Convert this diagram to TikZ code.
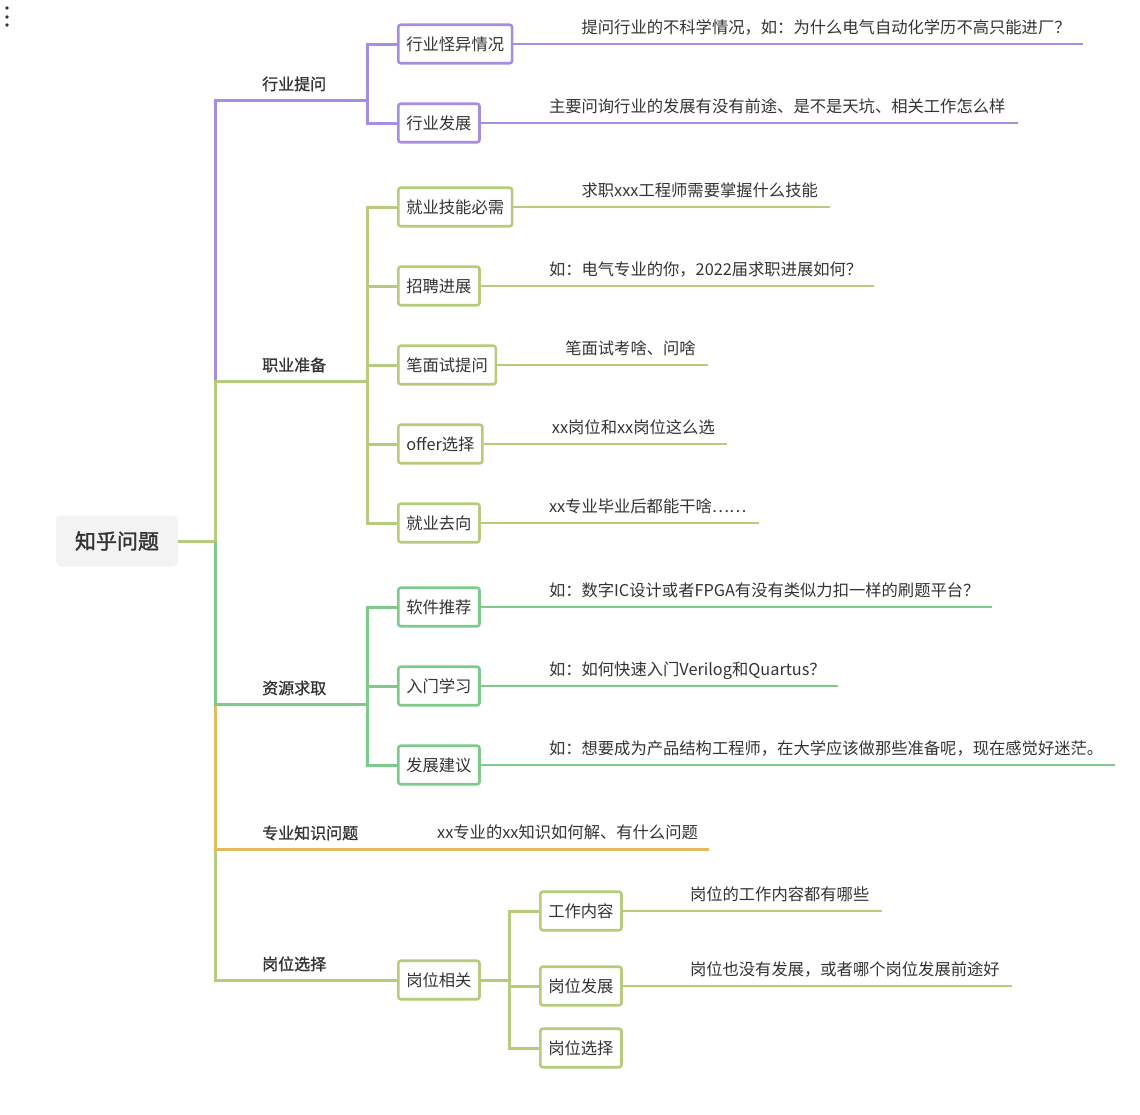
\documentclass[tikz,border=0pt]{standalone}
\usepackage{fontspec}
\setmainfont{Noto Sans CJK SC}
\newfontfamily\medfont{Noto Sans CJK SC}[FakeBold=1.1]
\newfontfamily\rootfont{Noto Sans CJK SC}[FakeBold=1.6]
\usepackage{xcolor}
\definecolor{ink}{HTML}{333333}
\definecolor{rootgray}{HTML}{F3F3F3}
\definecolor{lilac}{HTML}{A68CE2}
\definecolor{olive}{HTML}{B6CB7C}
\definecolor{leafgreen}{HTML}{7EC98C}
\definecolor{amber}{HTML}{E4BA5E}
\usetikzlibrary{calc, positioning}

\begin{document}
\begin{tikzpicture}[
    x=1pt, y=-1pt,
    root/.style={fill=rootgray, rounded corners=5pt, minimum width=122pt, minimum height=51pt, font=\fontsize{21}{25}\rootfont, text=ink},
    topic/.style={anchor=base west, inner sep=0pt, font=\fontsize{16}{19}\medfont, text=ink},
    sub/.style={draw=#1, fill=white, line width=2.6pt, rounded corners=2.5pt, anchor=west, minimum height=38.5pt, inner xsep=8pt, font=\fontsize{16.3}{19}\selectfont, text=ink},
    leaf/.style={anchor=base west, inner sep=0pt, font=\fontsize{16.3}{19}\selectfont, text=ink},
    limb/.style={draw=#1, line width=3pt},
    twig/.style={draw=#1, line width=2.4pt}
]
\useasboundingbox (0,0) rectangle (1140,1114);

% menu dots
\fill[ink] (7,8) circle (1.8) (7,17) circle (1.8) (7,25) circle (1.8);

% root
\node[root] (root) at (117,541) {知乎问题};
\coordinate (hub) at (215,541);

% level one labels
\node[topic] (t1) at (262,90) {行业提问};
\node[topic] (t2) at (262,371) {职业准备};
\node[topic] (t3) at (262,694) {资源求取};
\node[topic] (t4) at (262,839) {专业知识问题};
\node[topic] (t5) at (262,970) {岗位选择};

% 行业提问
\coordinate (pj) at (367,100);
\node[sub=lilac] (p1) at (397,44) {行业怪异情况};
\node[sub=lilac] (p2) at (397,123) {行业发展};
\node[leaf] (p1t) at ($(p1.east)+(68,-11)$) {提问行业的不科学情况，如：为什么电气自动化学历不高只能进厂？};
\node[leaf] (p2t) at ($(p2.east)+(68,-11)$) {主要问询行业的发展有没有前途、是不是天坑、相关工作怎么样};

% 职业准备
\coordinate (zj) at (367,381);
\node[sub=olive] (z1) at (397,207) {就业技能必需};
\node[sub=olive] (z2) at (397,286) {招聘进展};
\node[sub=olive] (z3) at (397,365) {笔面试提问};
\node[sub=olive] (z4) at (397,444) {offer选择};
\node[sub=olive] (z5) at (397,523) {就业去向};
\node[leaf] (z1t) at ($(z1.east)+(68,-11)$) {求职xxx工程师需要掌握什么技能};
\node[leaf] (z2t) at ($(z2.east)+(68,-11)$) {如：电气专业的你，2022届求职进展如何？};
\node[leaf] (z3t) at ($(z3.east)+(68,-11)$) {笔面试考啥、问啥};
\node[leaf] (z4t) at ($(z4.east)+(68,-11)$) {xx岗位和xx岗位这么选};
\node[leaf] (z5t) at ($(z5.east)+(68,-11)$) {xx专业毕业后都能干啥……};

% 资源求取
\coordinate (rj) at (367,704);
\node[sub=leafgreen] (r1) at (397,607) {软件推荐};
\node[sub=leafgreen] (r2) at (397,686) {入门学习};
\node[sub=leafgreen] (r3) at (397,765) {发展建议};
\node[leaf] (r1t) at ($(r1.east)+(68,-11)$) {如：数字IC设计或者FPGA有没有类似力扣一样的刷题平台？};
\node[leaf] (r2t) at ($(r2.east)+(68,-11)$) {如：如何快速入门Verilog和Quartus？};
\node[leaf] (r3t) at ($(r3.east)+(68,-11)$) {如：想要成为产品结构工程师，在大学应该做那些准备呢，现在感觉好迷茫。};

% 专业知识问题
\node[leaf] (kt) at (437,838) {xx专业的xx知识如何解、有什么问题};

% 岗位选择
\coordinate (gj) at (509,980);
\node[sub=olive] (g0) at (397,980) {岗位相关};
\node[sub=olive] (g1) at (539,911) {工作内容};
\node[sub=olive] (g2) at (539,986) {岗位发展};
\node[sub=olive] (g3) at (539,1048) {岗位选择};
\node[leaf] (g1t) at ($(g1.east)+(67,-11)$) {岗位的工作内容都有哪些};
\node[leaf] (g2t) at ($(g2.east)+(67,-11)$) {岗位也没有发展，或者哪个岗位发展前途好};

% trunk, far branches first
\draw[limb=olive] (hub) |- (g0.west);
\draw[limb=amber] (hub) |- ($(kt.base east)+(11,11)$);
\draw[limb=leafgreen] (hub) |- (rj);
\draw[limb=lilac] (hub) |- (pj);
\draw[limb=olive] (hub) |- (zj);
\draw[limb=olive] (root.east) -- (hub);

% sub trunks
\draw[limb=lilac] (pj) |- (p1.west) (pj) |- (p2.west);
\draw[limb=olive] (zj) |- (z1.west) (zj) |- (z2.west) (zj) |- (z3.west) (zj) |- (z4.west) (zj) |- (z5.west);
\draw[limb=leafgreen] (rj) |- (r1.west) (rj) |- (r2.west) (rj) |- (r3.west);
\draw[limb=olive] (g0.east) -- (gj);
\draw[limb=olive] (gj) |- (g1.west) (gj) |- (g2.west) (gj) |- (g3.west);

% leaf underlines
\draw[twig=lilac] (p1.east) -- ($(p1.east -| p1t.east)+(12,0)$);
\draw[twig=lilac] (p2.east) -- ($(p2.east -| p2t.east)+(12,0)$);
\draw[twig=olive] (z1.east) -- ($(z1.east -| z1t.east)+(12,0)$);
\draw[twig=olive] (z2.east) -- ($(z2.east -| z2t.east)+(12,0)$);
\draw[twig=olive] (z3.east) -- ($(z3.east -| z3t.east)+(12,0)$);
\draw[twig=olive] (z4.east) -- ($(z4.east -| z4t.east)+(12,0)$);
\draw[twig=olive] (z5.east) -- ($(z5.east -| z5t.east)+(12,0)$);
\draw[twig=leafgreen] (r1.east) -- ($(r1.east -| r1t.east)+(12,0)$);
\draw[twig=leafgreen] (r2.east) -- ($(r2.east -| r2t.east)+(12,0)$);
\draw[twig=leafgreen] (r3.east) -- ($(r3.east -| r3t.east)+(12,0)$);
\draw[twig=olive] (g1.east) -- ($(g1.east -| g1t.east)+(12,0)$);
\draw[twig=olive] (g2.east) -- ($(g2.east -| g2t.east)+(12,0)$);

\end{tikzpicture}
\end{document}
